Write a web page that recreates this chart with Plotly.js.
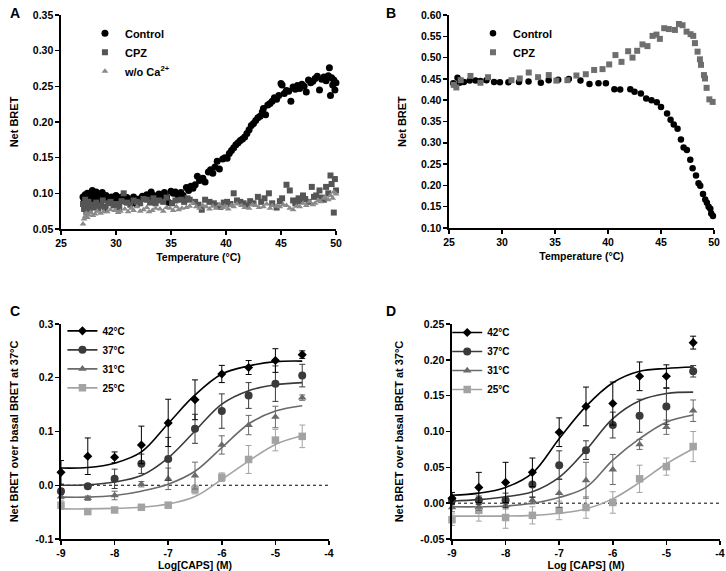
<!DOCTYPE html>
<html><head><meta charset="utf-8">
<script src="https://cdn.plot.ly/plotly-3.0.1.min.js"></script>
<style>html,body{margin:0;padding:0;background:#fff}#chart{width:726px;height:571px}</style>
</head><body><div id="chart"></div>
<script>
// ---------- Panel A ----------
const aCtrlT = [27.0,27.1,27.2,27.3,27.35,27.4,27.5,27.55,27.6,27.7,27.8,27.85,28.0,28.1,28.2,28.3,28.4,28.5,28.6,28.75,28.9,29.0,29.1,29.3,29.5,29.6,29.8,30.0,30.2,30.4,30.5,30.7,30.9,31.0,31.2,31.4,31.6,31.8,31.9,32.1,32.4,32.6,32.8,33.0,33.2,33.4,33.7,33.9,34.2,34.4,34.6,34.8,35.0,35.2,35.4,35.6,35.9,36.1,36.4,36.6,36.8,37.0,37.2,37.4,37.6,37.9,38.1,38.4,38.6,38.8,39.0,39.2,39.4,39.7,39.9,40.1,40.3,40.5,40.7,40.9,41.1,41.3,41.5,41.7,41.9,42.1,42.3,42.5,42.7,42.9,43.1,43.3,43.4,43.6,43.8,44.0,44.2,44.4,44.6,44.8,45.0,45.1,45.3,45.5,45.7,45.9,46.1,46.3,46.5,46.7,46.9,47.1,47.3,47.5,47.7,47.9,48.1,48.3,48.5,48.7,48.9,49.1,49.3,49.4,49.5,49.6,49.7,49.8,49.9,50.0];
const aCtrlV = [0.095,0.088,0.098,0.084,0.092,0.100,0.079,0.095,0.090,0.097,0.086,0.104,0.093,0.088,0.102,0.096,0.091,0.099,0.085,0.101,0.094,0.080,0.097,0.092,0.088,0.095,0.091,0.097,0.093,0.089,0.095,0.090,0.088,0.094,0.091,0.086,0.095,0.089,0.085,0.092,0.096,0.094,0.098,0.095,0.102,0.097,0.096,0.099,0.097,0.101,0.095,0.087,0.103,0.100,0.102,0.098,0.101,0.097,0.108,0.104,0.110,0.107,0.112,0.124,0.118,0.121,0.116,0.130,0.133,0.128,0.137,0.145,0.134,0.148,0.150,0.149,0.156,0.160,0.164,0.168,0.171,0.174,0.176,0.179,0.184,0.189,0.195,0.198,0.202,0.206,0.208,0.214,0.219,0.210,0.224,0.226,0.229,0.234,0.232,0.237,0.254,0.252,0.240,0.244,0.243,0.229,0.249,0.246,0.251,0.247,0.253,0.250,0.242,0.259,0.255,0.257,0.261,0.264,0.245,0.260,0.263,0.258,0.265,0.276,0.237,0.262,0.252,0.259,0.245,0.255];
const aCpzT = [27.0,27.1,27.2,27.3,27.4,27.5,27.6,27.8,28.0,28.2,28.4,28.6,28.8,29.0,29.3,29.5,29.8,30.0,30.3,30.5,30.7,31.0,31.3,31.6,31.9,32.2,32.5,32.8,33.1,33.4,33.6,33.9,34.3,34.6,35.1,35.4,35.9,36.2,36.5,36.7,37.2,37.5,37.8,38.1,38.5,38.9,39.2,39.5,39.8,40.1,40.4,40.7,41.0,41.3,41.6,41.9,42.2,42.5,42.9,43.2,43.5,43.9,44.2,44.6,44.9,45.1,45.5,45.8,46.1,46.3,46.6,46.8,47.0,47.2,47.5,47.8,48.0,48.2,48.5,48.7,48.9,49.1,49.3,49.5,49.6,49.8,49.9,50.0];
const aCpzV = [0.085,0.078,0.091,0.074,0.082,0.088,0.076,0.084,0.080,0.087,0.079,0.083,0.090,0.081,0.086,0.088,0.083,0.085,0.080,0.089,0.100,0.087,0.084,0.090,0.088,0.086,0.092,0.091,0.087,0.093,0.086,0.090,0.088,0.094,0.086,0.090,0.091,0.088,0.093,0.091,0.088,0.084,0.077,0.091,0.088,0.086,0.083,0.081,0.087,0.088,0.085,0.100,0.090,0.088,0.086,0.083,0.089,0.086,0.095,0.088,0.093,0.100,0.086,0.080,0.089,0.093,0.112,0.104,0.090,0.086,0.093,0.089,0.097,0.092,0.088,0.109,0.095,0.097,0.104,0.094,0.091,0.109,0.100,0.125,0.113,0.073,0.120,0.104];
const aNoCaT = [27.0,27.1,27.2,27.3,27.4,27.5,27.7,27.9,28.1,28.3,28.6,28.9,29.2,29.5,29.9,30.2,30.4,30.8,31.1,31.4,31.6,31.9,32.2,32.5,32.8,33.0,33.3,33.6,34.0,34.3,34.6,34.9,35.2,35.5,35.7,36.0,36.4,36.7,37.0,37.3,37.6,37.9,38.2,38.5,38.8,39.1,39.4,39.7,39.9,40.2,40.5,40.7,41.0,41.4,41.7,42.1,42.4,42.7,43.0,43.4,43.7,44.0,44.2,44.6,44.9,45.2,45.5,45.8,46.1,46.4,46.7,47.0,47.3,47.6,47.9,48.1,48.4,48.6,48.9,49.0,49.3,49.5,49.7,49.8,50.0];
const aNoCaV = [0.057,0.064,0.068,0.072,0.066,0.070,0.073,0.069,0.071,0.075,0.072,0.074,0.074,0.077,0.076,0.073,0.075,0.078,0.074,0.079,0.076,0.081,0.075,0.077,0.080,0.074,0.076,0.079,0.078,0.075,0.080,0.079,0.076,0.081,0.077,0.079,0.080,0.082,0.086,0.081,0.079,0.083,0.081,0.078,0.082,0.079,0.084,0.080,0.082,0.078,0.083,0.081,0.085,0.083,0.080,0.079,0.084,0.083,0.080,0.081,0.085,0.079,0.083,0.082,0.081,0.084,0.083,0.079,0.077,0.082,0.081,0.086,0.083,0.088,0.084,0.086,0.090,0.088,0.093,0.095,0.091,0.097,0.093,0.102,0.099];

// ---------- Panel B ----------
const bCtrlT = [25.4,25.8,26.0,26.4,26.95,27.5,27.96,28.53,29.25,29.8,30.6,31.6,32.5,33.66,34.4,35.3,36.3,37.4,38.25,39.1,39.8,40.6,41.15,42.1,42.5,43.1,43.6,44.1,44.6,45.0,45.57,45.9,46.2,46.56,46.88,47.13,47.44,47.76,47.98,48.3,48.54,48.7,48.96,49.17,49.33,49.49,49.65,49.74,49.9,50.02];
const bCtrlV = [0.440,0.453,0.441,0.443,0.446,0.446,0.445,0.447,0.443,0.442,0.442,0.443,0.444,0.441,0.447,0.448,0.450,0.446,0.438,0.440,0.440,0.426,0.425,0.426,0.420,0.416,0.404,0.400,0.395,0.384,0.369,0.354,0.343,0.333,0.308,0.289,0.283,0.260,0.240,0.223,0.205,0.199,0.180,0.167,0.159,0.150,0.145,0.134,0.128,0.127];
const bCpzT = [25.44,25.69,26.1,27.02,27.96,28.68,30.89,31.67,32.52,33.4,34.41,35.13,36.17,37.02,37.9,38.69,39.48,40.11,40.7,41.27,41.9,42.31,42.75,43.25,43.72,44.2,44.57,44.89,45.3,45.74,46.31,46.69,47.03,47.41,47.79,48.04,48.2,48.45,48.67,48.77,49.05,49.15,49.3,49.56,49.87,50.1];
const bCpzV = [0.436,0.430,0.447,0.457,0.441,0.454,0.447,0.451,0.465,0.454,0.459,0.446,0.447,0.458,0.461,0.471,0.473,0.484,0.506,0.490,0.515,0.500,0.516,0.531,0.527,0.551,0.554,0.544,0.569,0.567,0.565,0.579,0.576,0.561,0.555,0.551,0.534,0.514,0.496,0.483,0.459,0.451,0.429,0.402,0.396,0.369];

// ---------- Panels C and D ----------
const logCaps = [-9,-8.5,-8,-7.5,-7,-6.5,-6,-5.5,-5,-4.5];
const tempLabels = ['42°C','37°C','31°C','25°C'];

const c42 = [0.024,0.054,0.052,0.075,0.116,0.159,0.207,0.219,0.232,0.243];
const c42Err = [0.022,0.034,0.010,0.035,0.044,0.037,0.016,0.013,0.022,0.007];
const c37 = [-0.011,-0.002,0.012,0.040,0.049,0.105,0.138,0.167,0.189,0.204];
const c37Err = [0.005,0.004,0.018,0.018,0.040,0.027,0.032,0.024,0.033,0.021];
const c31 = [-0.021,-0.024,-0.019,0.002,0.012,0.018,0.075,0.112,0.127,0.163];
const c31Err = [0.004,0.004,0.008,0.005,0.020,0.025,0.017,0.018,0.020,0.005];
const c25 = [-0.037,-0.049,-0.046,-0.041,-0.037,-0.008,0.015,0.048,0.084,0.091];
const c25Err = [0.008,0.004,0.004,0.004,0.005,0.008,0.008,0.026,0.020,0.021];
const c42Fit = [0.032,0.033,0.041,0.062,0.115,0.168,0.207,0.222,0.230,0.231];
const c37Fit = [0.000,0.001,0.006,0.018,0.051,0.101,0.151,0.176,0.187,0.191];
const c31Fit = [-0.022,-0.022,-0.019,-0.011,0.002,0.026,0.070,0.114,0.138,0.148];
const c25Fit = [-0.044,-0.044,-0.043,-0.041,-0.035,-0.021,0.011,0.045,0.076,0.092];

const d42 = [0.007,0.022,0.029,0.043,0.099,0.135,0.139,0.177,0.177,0.224];
const d42Err = [0.008,0.021,0.028,0.020,0.020,0.027,0.030,0.020,0.016,0.009];
const d37 = [0.004,0.004,0.004,0.026,0.053,0.074,0.109,0.122,0.135,0.184];
const d37Err = [0.006,0.006,0.010,0.018,0.020,0.013,0.018,0.023,0.025,0.008];
const d31 = [-0.006,-0.005,-0.003,0.004,0.014,0.032,0.047,0.082,0.106,0.129];
const d31Err = [0.006,0.005,0.005,0.005,0.020,0.025,0.021,0.007,0.010,0.015];
const d25 = [-0.023,-0.010,-0.020,-0.017,-0.010,-0.006,0.001,0.034,0.051,0.079];
const d25Err = [0.008,0.015,0.015,0.012,0.013,0.015,0.015,0.019,0.012,0.021];
const d42Fit = [0.011,0.014,0.022,0.042,0.090,0.135,0.168,0.184,0.188,0.190];
const d37Fit = [0.003,0.005,0.009,0.016,0.036,0.074,0.118,0.143,0.153,0.155];
const d31Fit = [-0.005,-0.005,-0.004,0.000,0.008,0.022,0.060,0.090,0.113,0.123];
const d25Fit = [-0.018,-0.018,-0.018,-0.017,-0.014,-0.008,0.006,0.029,0.055,0.076];

// ---------- tick labels ----------
const logTickVals = [-9,-8,-7,-6,-5,-4];
const logTickText = ['-9','-8','-7','-6','-5','-4'];
const cTickVals = [-0.1,0,0.1,0.2,0.3];
const cTickText = ['-0.1','0.0','0.1','0.2','0.3'];
const dTickVals = [-0.05,0,0.05,0.1,0.15,0.2,0.25];
const dTickText = ['-0.05','0.00','0.05','0.10','0.15','0.20','0.25'];

const F = 'Liberation Sans, Arial, Helvetica, sans-serif';
const tempColors = ['#000000','#3a3a3a','#6a6a6a','#a3a3a3'];
const tempSymbols = ['diamond','circle','triangle-up','square'];
const tempSizes = [7,8,7.5,7.5];

const traces = [];
function sc(x, y, xa, ya, color, symbol, size, name, legend, show) {
  return {type:'scatter', mode:'markers', x:x, y:y, xaxis:xa, yaxis:ya, name:name,
    marker:{color:color, symbol:symbol, size:size, line:{width:0}}, cliponaxis:false,
    legend:legend, showlegend:show};
}
traces.push(sc(aCtrlT, aCtrlV, 'x', 'y', '#000000', 'circle', 7, 'Control', 'legend', true));
traces.push(sc(aCpzT, aCpzV, 'x', 'y', '#555555', 'square', 6, 'CPZ', 'legend', true));
traces.push(sc(aNoCaT, aNoCaV, 'x', 'y', '#8a8a8a', 'triangle-up', 6, 'w/o Ca<sup>2+</sup>', 'legend', true));
traces.push(sc(bCtrlT, bCtrlV, 'x2', 'y2', '#000000', 'circle', 6.5, 'Control', 'legend2', true));
traces.push(sc(bCpzT, bCpzV, 'x2', 'y2', '#6e6e6e', 'square', 6, 'CPZ', 'legend2', true));

function dose(xa, ya, legend, vals, errs, fits) {
  for (let i = 0; i < 4; i++) {
    traces.push({type:'scatter', mode:'lines', x:logCaps, y:fits[i], xaxis:xa, yaxis:ya,
      line:{color:tempColors[i], width:1.6, shape:'spline', smoothing:1}, showlegend:false, hoverinfo:'skip', cliponaxis:false});
  }
  for (let i = 3; i >= 0; i--) {
    traces.push({type:'scatter', mode:'markers', x:logCaps, y:vals[i], xaxis:xa, yaxis:ya,
      marker:{color:tempColors[i], symbol:tempSymbols[i], size:tempSizes[i]},
      error_y:{type:'data', array:errs[i], color:tempColors[i], thickness:1, width:3},
      showlegend:false, cliponaxis:false});
  }
  for (let i = 0; i < 4; i++) {
    traces.push({type:'scatter', mode:'lines+markers', x:[null], y:[null], xaxis:xa, yaxis:ya,
      name:tempLabels[i], legend:legend,
      line:{color:tempColors[i], width:1.6},
      marker:{color:tempColors[i], symbol:tempSymbols[i], size:tempSizes[i]}});
  }
}
dose('x3','y3','legend3',[c42,c37,c31,c25],[c42Err,c37Err,c31Err,c25Err],[c42Fit,c37Fit,c31Fit,c25Fit]);
dose('x4','y4','legend4',[d42,d37,d31,d25],[d42Err,d37Err,d31Err,d25Err],[d42Fit,d37Fit,d31Fit,d25Fit]);

const tickFont = {family:F, size:10.5, color:'#000', weight:'bold'};
function ax(o) {
  return Object.assign({showline:true, linecolor:'#000', linewidth:1.6, ticks:'outside', ticklen:4,
    tickwidth:1.5, tickcolor:'#000', showgrid:false, zeroline:false, tickfont:tickFont,
    fixedrange:true, automargin:false}, o);
}
function ttl(t, size, standoff) {
  return {text:t, font:{family:F, size:size, color:'#000', weight:'bold'}, standoff:standoff};
}
function leg(x, y, size) {
  return {x:x, y:y, xanchor:'left', yanchor:'top', bgcolor:'rgba(0,0,0,0)', borderwidth:0,
    font:{family:F, size:size, color:'#000', weight:'bold'}, itemclick:false, itemdoubleclick:false, tracegroupgap:0};
}

const layout = {
  width:726, height:571, margin:{l:0, r:0, t:0, b:0},
  paper_bgcolor:'#fff', plot_bgcolor:'#fff',
  font:{family:F, color:'#000'},
  xaxis: ax({domain:[0.0840,0.4628], range:[25,50], dtick:5, tick0:25, anchor:'y', title:ttl('Temperature (°C)',10.5,5)}),
  yaxis: ax({domain:[0.5990,0.9737], range:[0.05,0.35], dtick:0.05, tick0:0.05, tickformat:'.2f', anchor:'x', title:ttl('Net BRET',11,12)}),
  xaxis2: ax({domain:[0.6185,0.9835], range:[25,50], dtick:5, tick0:25, anchor:'y2', title:ttl('Temperature (°C)',10.5,5)}),
  yaxis2: ax({domain:[0.6007,0.9737], range:[0.10,0.60], dtick:0.05, tick0:0.1, tickformat:'.2f', anchor:'x2', title:ttl('Net BRET',11,12)}),
  xaxis3: ax({domain:[0.0840,0.4532], range:[-9,-4], tickmode:'array', tickvals:logTickVals, ticktext:logTickText, anchor:'y3', title:ttl('Log[CAPS] (M)',10.5,6)}),
  yaxis3: ax({domain:[0.0560,0.4326], range:[-0.1,0.3], tickmode:'array', tickvals:cTickVals, ticktext:cTickText, anchor:'x3', title:ttl('Net BRET over basal BRET at 37°C',11,14)}),
  xaxis4: ax({domain:[0.6226,0.9917], range:[-9,-4], tickmode:'array', tickvals:logTickVals, ticktext:logTickText, anchor:'y4', title:ttl('Log [CAPS] (M)',10.5,6)}),
  yaxis4: ax({domain:[0.0560,0.4326], range:[-0.05,0.25], tickmode:'array', tickvals:dTickVals, ticktext:dTickText, anchor:'x4', title:ttl('Net BRET over basal BRET at 37°C',11,14)}),
  legend: leg(0.117, 0.967, 11),
  legend2: leg(0.6515, 0.967, 11),
  legend3: leg(0.086, 0.446, 10),
  legend4: leg(0.616, 0.443, 10),
  shapes:[
    {type:'line', xref:'x3 domain', x0:0, x1:1, yref:'y3', y0:0, y1:0, line:{color:'#000', width:1, dash:'dot'}, layer:'below'},
    {type:'line', xref:'x4 domain', x0:0, x1:1, yref:'y4', y0:0, y1:0, line:{color:'#000', width:1, dash:'dot'}, layer:'below'}
  ],
  annotations:[
    {text:'A', xref:'paper', yref:'paper', x:8/726, y:1-3/571, xanchor:'left', yanchor:'top', showarrow:false, font:{family:F, size:14, weight:'bold', color:'#000'}},
    {text:'B', xref:'paper', yref:'paper', x:384/726, y:1-3/571, xanchor:'left', yanchor:'top', showarrow:false, font:{family:F, size:14, weight:'bold', color:'#000'}},
    {text:'C', xref:'paper', yref:'paper', x:8/726, y:1-301/571, xanchor:'left', yanchor:'top', showarrow:false, font:{family:F, size:14, weight:'bold', color:'#000'}},
    {text:'D', xref:'paper', yref:'paper', x:384/726, y:1-301/571, xanchor:'left', yanchor:'top', showarrow:false, font:{family:F, size:14, weight:'bold', color:'#000'}}
  ]
};
Plotly.newPlot('chart', traces, layout, {staticPlot:true, displayModeBar:false});
</script></body></html>
